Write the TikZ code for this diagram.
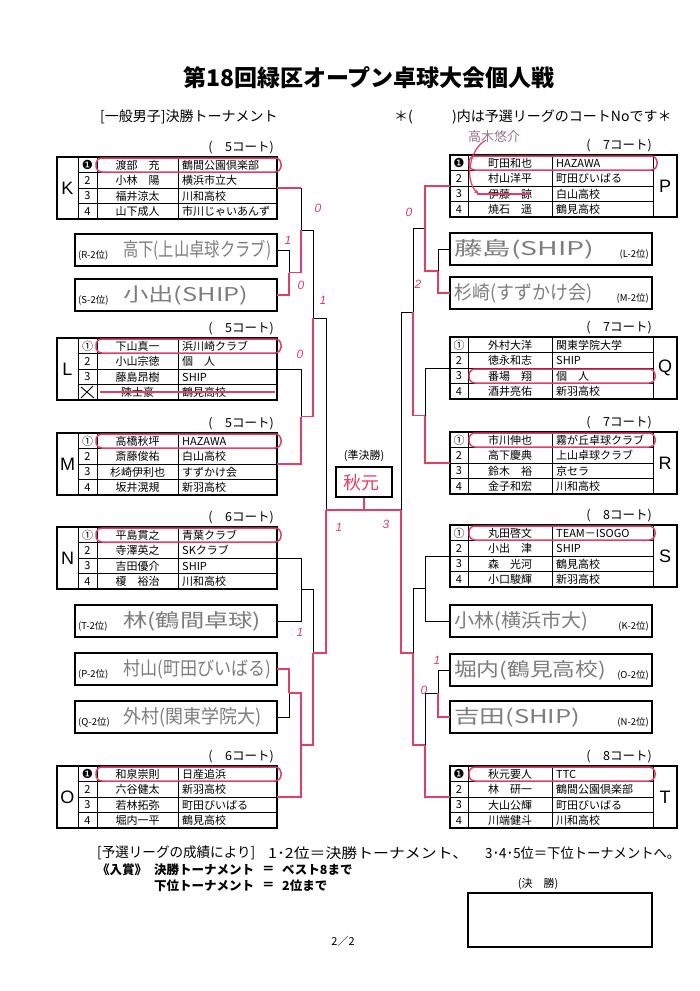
\documentclass[tikz,border=0pt]{standalone}
\usepackage{fontspec}
\usepackage{graphicx}
\setmainfont{Noto Sans CJK JP}
\newfontfamily\dvs{DejaVu Sans}
\newfontfamily\lsans{Liberation Sans}
\usetikzlibrary{arrows.meta}
\definecolor{hl}{RGB}{226,62,102}
\definecolor{pen}{RGB}{125,125,125}
\definecolor{pencil}{RGB}{150,115,140}
\tikzset{
  frame/.style={draw=black,line width=1.1pt},
  grid/.style={draw=black,line width=0.7pt},
  br/.style={draw=black,line width=0.8pt},
  win/.style={draw=hl,line width=1.7pt},
  hilite/.style={draw=hl,line width=1.5pt,rounded corners=6pt},
  strike/.style={draw=hl,line width=1.5pt},
  cell/.style={inner sep=0pt,font=\fontsize{11}{12}\selectfont},
  grp/.style={inner sep=0pt,font=\fontsize{18}{20}\selectfont\lsans},
  court/.style={inner sep=0pt,font=\fontsize{12.5}{14}\selectfont},
  hand/.style={inner sep=0pt,text=pen,font=\fontsize{19}{21}\selectfont},
  slot/.style={inner sep=0pt,font=\fontsize{9.5}{11}\selectfont},
  score/.style={inner sep=0pt,text=hl,font=\fontsize{12}{13}\selectfont\lsans\itshape},
  hdr/.style={inner sep=0pt,font=\fontsize{14}{16}\selectfont},
  note/.style={inner sep=0pt,anchor=west,font=\fontsize{14}{16}\selectfont},
  notesm/.style={inner sep=0pt,anchor=west,font=\fontsize{12.5}{14}\selectfont\bfseries},
}
% left group table: tag, top, letter, court
\newcommand{\LTab}[4]{%
  \draw[frame] (57,#2) rectangle (277,#2+62);
  \draw[grid] (78,#2) -- (78,#2+62) (97,#2) -- (97,#2+62) (178,#2) -- (178,#2+62)
    (78,#2+15.5) -- (277,#2+15.5) (78,#2+31) -- (277,#2+31) (78,#2+46.5) -- (277,#2+46.5);
  \node[grp] (#1g) at (67.5,#2+31) {#3};
  \node[court,anchor=east] (#1ct) at (274,#2-9) {(\hspace{1em}#4コート)};
  \coordinate (#1) at (277,#2+31);
}
\newcommand{\LRow}[6]{%
  \node[cell] (#1n#3) at (87.5,#2+#3*15.5+8) {#4};
  \node[cell] (#1m#3) at (137.5,#2+#3*15.5+8) {#5};
  \node[cell,anchor=west] (#1c#3) at (182,#2+#3*15.5+8) {#6};
}
\newcommand{\RTab}[4]{%
  \draw[frame] (450,#2) rectangle (677,#2+62);
  \draw[grid] (468,#2) -- (468,#2+62) (552,#2) -- (552,#2+62) (653,#2) -- (653,#2+62)
    (450,#2+15.5) -- (653,#2+15.5) (450,#2+31) -- (653,#2+31) (450,#2+46.5) -- (653,#2+46.5);
  \node[grp] (#1g) at (665,#2+31) {#3};
  \node[court,anchor=east] (#1ct) at (652,#2-9) {(\hspace{1em}#4コート)};
  \coordinate (#1) at (450,#2+31);
}
\newcommand{\RRow}[6]{%
  \node[cell] (#1n#3) at (459,#2+#3*15.5+8) {#4};
  \node[cell] (#1m#3) at (510,#2+#3*15.5+8) {#5};
  \node[cell,anchor=west] (#1c#3) at (556,#2+#3*15.5+8) {#6};
}
% second-place slots: tag, top, label, handwriting, width
\newcommand{\LSlot}[5]{%
  \draw[frame] (75,#2) rectangle (277,#2+32);
  \node[slot,anchor=west] (#1l) at (78,#2+21) {#3};
  \node[hand,anchor=west] (#1h) at (123,#2+16) {\resizebox{#5}{\height}{#4}};
  \coordinate (#1) at (277,#2+16);
}
\newcommand{\RSlot}[5]{%
  \draw[frame] (450,#2) rectangle (652,#2+32);
  \node[slot,anchor=east] (#1l) at (649,#2+21) {#3};
  \node[hand,anchor=west] (#1h) at (454,#2+16) {\resizebox{#5}{\height}{#4}};
  \coordinate (#1) at (450,#2+16);
}
\newcommand{\blk}{{\fontsize{12.5}{13}\selectfont\dvs ❶}}
\begin{document}
\begin{tikzpicture}[x=1pt,y=-1pt]
\useasboundingbox (0,0) rectangle (700,991);
\fill[white] (0,0) rectangle (700,991);

% titles
\node[inner sep=0pt,font=\fontsize{23}{26}\selectfont\bfseries] (title) at (369,78) {第18回緑区オープン卓球大会個人戦};
\node[hdr,anchor=west] (hd1) at (100,117) {[一般男子]決勝トーナメント};
\node[hdr,anchor=west] (hd2) at (394,117) {＊(};
\node[hdr,anchor=west] (hd3) at (452,117) {)内は予選リーグのコートNoです＊};

% ---------- left side ----------
\LTab{K}{157}{K}{5}
\LRow{K}{157}{0}{\blk}{渡部　充}{鶴間公園倶楽部}
\LRow{K}{157}{1}{2}{小林　陽}{横浜市立大}
\LRow{K}{157}{2}{3}{福井涼太}{川和高校}
\LRow{K}{157}{3}{4}{山下成人}{市川じゃいあんず}

\LSlot{R2}{234}{(R-2位)}{高下(上山卓球クラブ)}{148pt}
\LSlot{S2}{279}{(S-2位)}{小出(SHIP)}{125pt}

\LTab{L}{338}{L}{5}
\LRow{L}{338}{0}{①}{下山真一}{浜川崎クラブ}
\LRow{L}{338}{1}{2}{小山宗徳}{個　人}
\LRow{L}{338}{2}{3}{藤島昂樹}{SHIP}
\LRow{L}{338}{3}{}{陳士豪}{鶴見高校}

\LTab{M}{433}{M}{5}
\LRow{M}{433}{0}{①}{高橋秋坪}{HAZAWA}
\LRow{M}{433}{1}{2}{斎藤俊祐}{白山高校}
\LRow{M}{433}{2}{3}{杉崎伊利也}{すずかけ会}
\LRow{M}{433}{3}{4}{坂井滉規}{新羽高校}

\LTab{N}{527}{N}{6}
\LRow{N}{527}{0}{①}{平島貫之}{青葉クラブ}
\LRow{N}{527}{1}{2}{寺澤英之}{SKクラブ}
\LRow{N}{527}{2}{3}{吉田優介}{SHIP}
\LRow{N}{527}{3}{4}{榎　裕治}{川和高校}

\LSlot{T2}{605}{(T-2位)}{林(鶴間卓球)}{138pt}
\LSlot{P2}{653}{(P-2位)}{村山(町田びいばる)}{148pt}
\LSlot{Q2}{701}{(Q-2位)}{外村(関東学院大)}{138pt}

\LTab{O}{766}{O}{6}
\LRow{O}{766}{0}{\blk}{和泉崇則}{日産追浜}
\LRow{O}{766}{1}{2}{六谷健太}{新羽高校}
\LRow{O}{766}{2}{3}{若林拓弥}{町田びいばる}
\LRow{O}{766}{3}{4}{堀内一平}{鶴見高校}

% ---------- right side ----------
\RTab{P}{155}{P}{7}
\RRow{P}{155}{0}{\blk}{町田和也}{HAZAWA}
\RRow{P}{155}{1}{2}{村山洋平}{町田びいばる}
\RRow{P}{155}{2}{3}{伊藤　諒}{白山高校}
\RRow{P}{155}{3}{4}{焼石　遥}{鶴見高校}

\RSlot{L2}{233}{(L-2位)}{藤島(SHIP)}{140pt}
\RSlot{M2}{277}{(M-2位)}{杉崎(すずかけ会)}{138pt}

\RTab{Q}{337}{Q}{7}
\RRow{Q}{337}{0}{①}{外村大洋}{関東学院大学}
\RRow{Q}{337}{1}{2}{徳永和志}{SHIP}
\RRow{Q}{337}{2}{3}{番場　翔}{個　人}
\RRow{Q}{337}{3}{4}{酒井亮佑}{新羽高校}

\RTab{R}{432}{R}{7}
\RRow{R}{432}{0}{①}{市川伸也}{霧が丘卓球クラブ}
\RRow{R}{432}{1}{2}{高下慶典}{上山卓球クラブ}
\RRow{R}{432}{2}{3}{鈴木　裕}{京セラ}
\RRow{R}{432}{3}{4}{金子和宏}{川和高校}

\RTab{S}{525}{S}{8}
\RRow{S}{525}{0}{①}{丸田啓文}{TEAM－ISOGO}
\RRow{S}{525}{1}{2}{小出　津}{SHIP}
\RRow{S}{525}{2}{3}{森　光河}{鶴見高校}
\RRow{S}{525}{3}{4}{小口駿輝}{新羽高校}

\RSlot{K2}{605}{(K-2位)}{小林(横浜市大)}{134pt}
\RSlot{O2}{654}{(O-2位)}{堀内(鶴見高校)}{152pt}
\RSlot{N2}{701}{(N-2位)}{吉田(SHIP)}{126pt}

\RTab{T}{766}{T}{8}
\RRow{T}{766}{0}{\blk}{秋元要人}{TTC}
\RRow{T}{766}{1}{2}{林　研一}{鶴間公園倶楽部}
\RRow{T}{766}{2}{3}{大山公輝}{町田びいばる}
\RRow{T}{766}{3}{4}{川端健斗}{川和高校}

% ---------- semifinal box ----------
\node[cell] (sflab) at (364,456) {(準決勝)};
\node[frame,draw,minimum width=56pt,minimum height=30pt,inner sep=0pt] (semi) at (364,482) {};
\node[inner sep=0pt,text=hl,font=\fontsize{18}{20}\selectfont] (semiw) at (361,483) {秋元};

% ---------- bracket junctions ----------
\coordinate (m1) at (289,272.5);
\coordinate (m2) at (301,230);
\coordinate (m3) at (301,416.5);
\coordinate (m4) at (313,318);
\coordinate (m5) at (301,589.5);
\coordinate (m6) at (289,693);
\coordinate (m7) at (301,745);
\coordinate (m8) at (313,653);
\coordinate (m9) at (326,510);
\coordinate (n1) at (438,271);
\coordinate (n2) at (425,228.5);
\coordinate (n3) at (425,415.5);
\coordinate (n4) at (413,312);
\coordinate (n5) at (425,588.5);
\coordinate (n6) at (438,693);
\coordinate (n7) at (425,745);
\coordinate (n8) at (413,653);
\coordinate (n9) at (401,510);
\coordinate (sj) at (364,510);

\draw[br] (R2) -| (m1) (S2) -| (m1) (K) -| (m2) (m1) -| (m2)
  (L) -| (m3) (M) -| (m3) (m2) -| (m4) (m3) -| (m4)
  (N) -| (m5) (T2) -| (m5) (P2) -| (m6) (Q2) -| (m6)
  (m6) -| (m7) (O) -| (m7) (m5) -| (m8) (m7) -| (m8)
  (m4) -| (m9) (m8) -| (m9);
\draw[br] (L2) -| (n1) (M2) -| (n1) (P) -| (n2) (n1) -| (n2)
  (Q) -| (n3) (R) -| (n3) (n2) -| (n4) (n3) -| (n4)
  (S) -| (n5) (K2) -| (n5) (O2) -| (n6) (N2) -| (n6)
  (n6) -| (n7) (T) -| (n7) (n5) -| (n8) (n7) -| (n8)
  (n4) -| (n9) (n8) -| (n9);
\draw[br] (m9) -- (n9) (sj) -- (semi.south);

% ---------- red winning lines ----------
\draw[win] (S2) -| (m1) (m1) -| (m2) (K) -- (K -| m2)
  (M) -| (m3) (m3) -| (m4)
  (P2) -| (m6) (m6) -| (m7) (O) -| (m7) (m7) -| (m8) (m8) -| (m9);
\draw[win] (P) -| (n2) (M2) -| (n1) (n1) -| (n2)
  (R) -| (n3) (n3) -| (n4)
  (N2) -| (n6) (T) -| (n7) (n7) -| (n8) (n8) -| (n9);
\draw[win] (m9) -- (n9) (sj) -- (semi.south);

% ---------- highlights ----------
\draw[hilite] (96,158) rectangle (281,172);
\draw[hilite] (96,339) rectangle (281,353);
\draw[hilite] (96,434) rectangle (281,448);
\draw[hilite] (96,528) rectangle (281,542);
\draw[hilite] (96,767) rectangle (281,781);
\draw[hilite] (469,156) rectangle (657,170);
\draw[hilite] (469,369) rectangle (655,383);
\draw[hilite] (469,433) rectangle (655,447);
\draw[hilite] (469,526) rectangle (655,540);
\draw[hilite] (469,767) rectangle (655,781);
\draw[strike] (100,392) -- (275,392);
\draw[draw=black,line width=0.9pt] (81,387) -- (94,398) (81,398) -- (93,386);
\draw[strike] (477,194) -- (530,194);
\draw[draw=hl,line width=1.2pt,-{Stealth[length=5pt]}] (486,140) .. controls (468,150) and (465,182) .. (479,194);
\node[inner sep=0pt,text=pencil,font=\fontsize{13}{15}\selectfont] (sub) at (494,137) {高木悠介};

% ---------- scores ----------
\node[score] (s1) at (318,208) {0};
\node[score] (s2) at (288,240) {1};
\node[score] (s3) at (301,285) {0};
\node[score] (s4) at (323,300) {1};
\node[score] (s5) at (300,354) {0};
\node[score] (s6) at (300,632) {1};
\node[score] (s7) at (339,527) {1};
\node[score] (s8) at (386,524) {3};
\node[score] (s9) at (409,212) {0};
\node[score] (s10) at (418,284) {2};
\node[score] (s11) at (437,660) {1};
\node[score] (s12) at (424,690) {0};

% ---------- notes ----------
\node[note] (nt1) at (97,853) {\resizebox{158pt}{\height}{[予選リーグの成績により]}};
\node[note] (nt2) at (268,853) {\resizebox{200pt}{\height}{1･2位＝決勝トーナメント、}};
\node[note] (nt3) at (485,853) {\resizebox{195pt}{\height}{3･4･5位＝下位トーナメントへ。}};
\node[notesm] (nt4) at (97,870) {《入賞》};
\node[notesm] (nt5) at (154,870) {決勝トーナメント};
\node[notesm] (nt6) at (262,870) {＝};
\node[notesm] (nt7) at (282,870) {ベスト8まで};
\node[notesm] (nt8) at (154,886) {下位トーナメント};
\node[notesm] (nt9) at (262,886) {＝};
\node[notesm] (nt10) at (282,886) {2位まで};
\node[cell] (fl) at (538,884) {(決　勝)};
\node[frame,draw,minimum width=184pt,minimum height=54pt,inner sep=0pt] (final) at (560,920) {};
\node[cell] (page) at (343,941) {2／2};
\end{tikzpicture}
\end{document}
